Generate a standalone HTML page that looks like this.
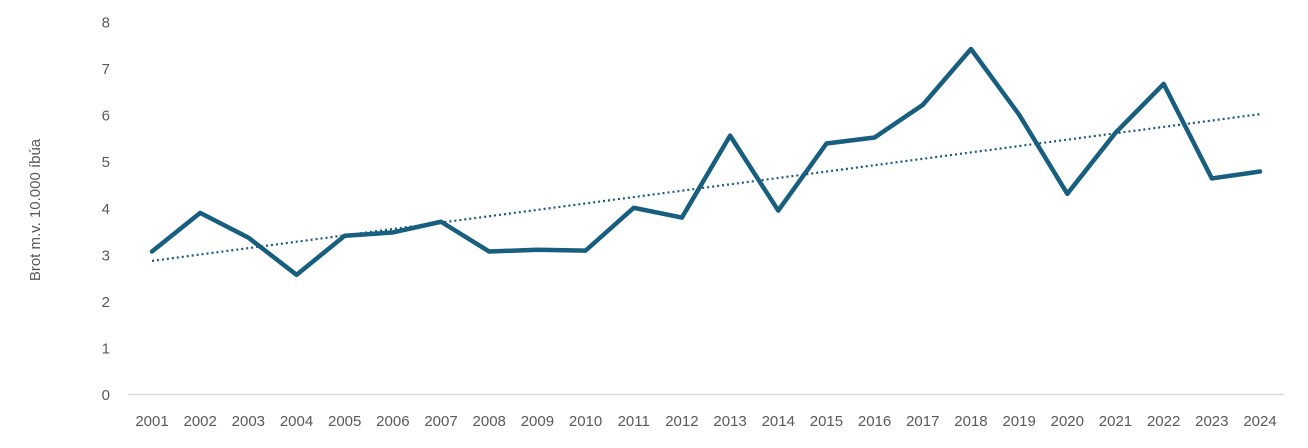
<!DOCTYPE html>
<html><head><meta charset="utf-8"><style>
html,body{margin:0;padding:0;background:#fff;}
svg text{font-family:"Liberation Sans",sans-serif;fill:#595959;}
</style></head><body>
<svg id="chart" width="1308" height="443" xmlns="http://www.w3.org/2000/svg">
<g id="yaxis"></g>
<g id="xaxis"></g>
<line x1="128" y1="394.5" x2="1284" y2="394.5" stroke="#d9d9d9" stroke-width="1.5"/>
<text transform="translate(40,210) rotate(-90)" text-anchor="middle" font-size="15">Brot m.v. 10.000 íbúa</text>
<g id="series"></g>
</svg>
<script>
const years=["2001","2002","2003","2004","2005","2006","2007","2008","2009","2010","2011","2012","2013","2014","2015","2016","2017","2018","2019","2020","2021","2022","2023","2024"];
const values=[3.07,3.90,3.37,2.57,3.41,3.48,3.71,3.07,3.11,3.09,4.01,3.80,5.56,3.95,5.39,5.52,6.22,7.42,6.01,4.31,5.62,6.67,4.64,4.79];
const yTicks=[0,1,2,3,4,5,6,7,8];
const NS="http://www.w3.org/2000/svg";
const x0=152,x1=1260,y0=394.5,yTop=22;
const xs=i=>x0+(x1-x0)*i/(years.length-1);
const ys=v=>y0-(y0-yTop)*v/8;
const yaxis=document.getElementById('yaxis'),xaxis=document.getElementById('xaxis'),series=document.getElementById('series');
yTicks.forEach(t=>{const e=document.createElementNS(NS,'text');


e.setAttribute('x',110);e.setAttribute('y',ys(t)+5.5);e.setAttribute('text-anchor','end');e.setAttribute('font-size','15');e.textContent=t;yaxis.appendChild(e);});
years.forEach((y,i)=>{const e=document.createElementNS(NS,'text');


e.setAttribute('x',xs(i));e.setAttribute('y',426);e.setAttribute('text-anchor','middle');e.setAttribute('font-size','15');e.textContent=y;xaxis.appendChild(e);});
// trend
const n=values.length;let sx=0,sy=0,sxx=0,sxy=0;values.forEach((v,i)=>{sx+=i;sy+=v;sxx+=i*i;sxy+=i*v;});
const b=(n*sxy-sx*sy)/(n*sxx-sx*sx),a=(sy-b*sx)/n;
const tr=document.createElementNS(NS,'line');


tr.setAttribute('x1',xs(0));tr.setAttribute('y1',ys(a));tr.setAttribute('x2',xs(n-1));tr.setAttribute('y2',ys(a+b*(n-1)));
tr.setAttribute('stroke','#1a5a7a');tr.setAttribute('stroke-width','2.2');tr.setAttribute('stroke-dasharray','2 3');
series.appendChild(tr);
const p=document.createElementNS(NS,'polyline');


p.setAttribute('points',values.map((v,i)=>xs(i)+','+ys(v)).join(' '));
p.setAttribute('fill','none');p.setAttribute('stroke','#175e7f');p.setAttribute('stroke-width','4.5');p.setAttribute('stroke-linejoin','round');p.setAttribute('stroke-linecap','round');
series.appendChild(p);
</script>
</body></html>
